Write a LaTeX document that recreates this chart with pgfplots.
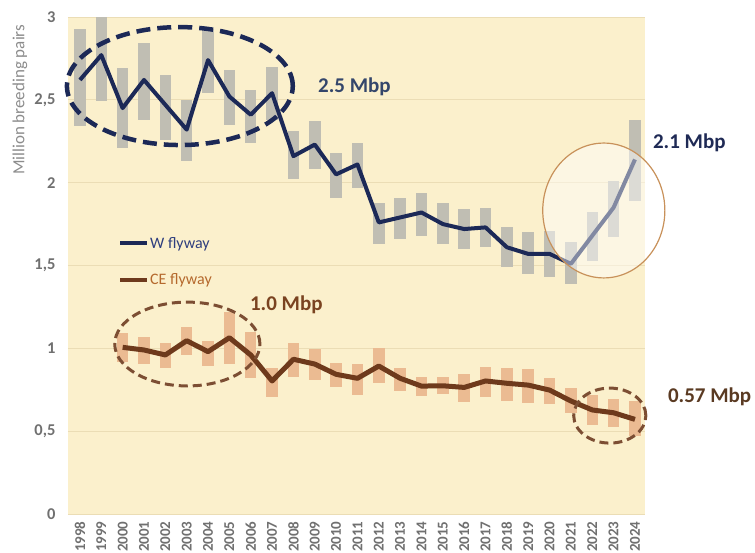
\documentclass[border=0pt]{standalone}
\usepackage{fontspec}
\setmainfont{Carlito}
\usepackage{pgfplots}
\usepackage{pgfplotstable}
\pgfplotsset{compat=1.18}

\definecolor{bgc}{HTML}{FBF0CC}
\definecolor{gridc}{HTML}{EBDDB5}
\definecolor{wline}{HTML}{1C2957}
\definecolor{wbar}{HTML}{C0BEB3}
\definecolor{wtext}{HTML}{2E3E7E}
\definecolor{celine}{HTML}{6E3A1C}
\definecolor{cebar}{HTML}{EBBB92}
\definecolor{cetext}{HTML}{B5692D}
\definecolor{ticktext}{HTML}{707070}
\definecolor{labeltext}{HTML}{8C8C8C}
\definecolor{circ}{HTML}{C8915A}
\definecolor{annW}{HTML}{34466B}
\definecolor{annW2}{HTML}{1F2A55}
\definecolor{annCE}{HTML}{7A4320}
\definecolor{annCE2}{HTML}{5A3A22}

% W flyway: estimate and range (million breeding pairs)
\pgfplotstableread{
year mid  lo   hi
1998 2.62 2.34 2.93
1999 2.77 2.49 3.00
2000 2.45 2.21 2.69
2001 2.62 2.38 2.84
2002 2.47 2.26 2.65
2003 2.32 2.13 2.50
2004 2.74 2.54 2.93
2005 2.52 2.35 2.68
2006 2.41 2.24 2.56
2007 2.54 2.38 2.70
2008 2.16 2.02 2.31
2009 2.23 2.08 2.37
2010 2.05 1.91 2.18
2011 2.11 1.97 2.24
2012 1.76 1.63 1.88
2013 1.79 1.66 1.91
2014 1.82 1.68 1.94
2015 1.75 1.63 1.88
2016 1.72 1.60 1.84
2017 1.73 1.61 1.85
2018 1.61 1.49 1.73
2019 1.57 1.45 1.70
2020 1.57 1.43 1.71
2021 1.51 1.39 1.64
2022 1.68 1.53 1.82
2023 1.85 1.67 2.01
2024 2.14 1.89 2.38
}\Wdata

% CE flyway
\pgfplotstableread{
year mid   lo    hi
2000 1.006 0.920 1.090
2001 0.990 0.905 1.070
2002 0.960 0.880 1.034
2003 1.046 0.960 1.127
2004 0.980 0.893 1.044
2005 1.064 0.903 1.220
2006 0.960 0.820 1.100
2007 0.803 0.708 0.879
2008 0.934 0.829 1.030
2009 0.905 0.809 0.994
2010 0.843 0.768 0.909
2011 0.819 0.718 0.905
2012 0.893 0.789 1.004
2013 0.819 0.744 0.883
2014 0.772 0.712 0.825
2015 0.774 0.724 0.825
2016 0.764 0.674 0.845
2017 0.803 0.708 0.885
2018 0.789 0.682 0.879
2019 0.778 0.668 0.875
2020 0.748 0.662 0.819
2021 0.682 0.611 0.759
2022 0.628 0.537 0.718
2023 0.611 0.527 0.692
2024 0.571 0.471 0.684
}\CEdata

\begin{document}
\begin{tikzpicture}
\useasboundingbox (-68pt,-39pt) rectangle (687pt,514pt);
\begin{axis}[
    width=577pt, height=497pt, scale only axis,
    xmin=1997.44, xmax=2024.47, ymin=0, ymax=3,
    clip=false,
    axis background/.style={fill=bgc},
    axis line style={draw=none},
    major tick length=0pt,
    ymajorgrids,
    grid style={gridc, line width=0.7pt},
    ytick={0,0.5,1,1.5,2,2.5,3},
    xtick={1998,1999,...,2024},
    /pgf/number format/assume math mode=true,
    yticklabel style={font=\fontsize{16.5}{18}\selectfont\bfseries, text=ticktext,
        /pgf/number format/use comma, xshift=-9pt},
    xticklabel shift=4pt,
    xticklabel style={rotate=90, anchor=east, font=\fontsize{15}{16}\selectfont\bfseries,
        text=ticktext, /pgf/number format/1000 sep={}},
    legend cell align=left,
    legend image code/.code={\draw[#1, line width=4pt] (0pt,0pt) -- (27pt,0pt);},
    legend style={at={(axis cs:1999.78,1.678)}, anchor=north west, draw=none, fill=none,
        font=\fontsize{16}{19}\selectfont, row sep=22pt, inner sep=0pt,
        nodes={inner sep=1pt}},
]
% ranges as thick vertical bars
\addplot[draw=none, mark=none, forget plot,
    error bars/.cd, y dir=both, y explicit, error mark=none,
    error bar style={draw=wbar, line width=11.5pt}]
    table[x=year, y=mid, y error plus expr=\thisrow{hi}-\thisrow{mid},
          y error minus expr=\thisrow{mid}-\thisrow{lo}] {\Wdata};
\addplot[draw=none, mark=none, forget plot,
    error bars/.cd, y dir=both, y explicit, error mark=none,
    error bar style={draw=cebar, line width=11.5pt}]
    table[x=year, y=mid, y error plus expr=\thisrow{hi}-\thisrow{mid},
          y error minus expr=\thisrow{mid}-\thisrow{lo}] {\CEdata};

\addplot[wline, line width=4pt, mark=none, line join=round] table[x=year, y=mid] {\Wdata};
\addlegendentry{\textcolor{wtext}{W flyway}}
\addplot[celine, line width=5pt, mark=none, line join=round] table[x=year, y=mid] {\CEdata};
\addlegendentry{\textcolor{cetext}{CE flyway}}

% highlights
\draw[wline, line width=4.5pt, dash pattern=on 14pt off 7pt]
    (axis cs:2002.68,2.583) ellipse [x radius=5.29, y radius=0.356];
\draw[celine!90, line width=3pt, dash pattern=on 9pt off 5pt]
    (axis cs:2003.03,1.026) ellipse [x radius=3.40, y radius=0.253];
\draw[celine!90, line width=3pt, dash pattern=on 9pt off 5pt]
    (axis cs:2022.82,0.594) ellipse [x radius=1.69, y radius=0.166];
\draw[circ, line width=1.2pt, fill=white, fill opacity=0.45]
    (axis cs:2022.54,1.832) ellipse [x radius=2.86, y radius=0.407];

\begin{scope}[every node/.style={anchor=base west, inner sep=0pt,
        font=\fontsize{21}{24}\selectfont\bfseries}]
\node[text=annW] at (axis cs:2009.15,2.547) {2.5 Mbp};
\node[text=annW2] at (axis cs:2024.84,2.209) {2.1 Mbp};
\node[text=annCE] at (axis cs:2005.96,1.231) {1.0 Mbp};
\node[text=annCE2] at (axis cs:2025.54,0.670) {0.57 Mbp};
\end{scope}
\node[rotate=90, text=labeltext, font=\fontsize{17}{20}\selectfont]
    at (axis cs:1995.19,2.5) {Million breeding pairs};
\end{axis}
\end{tikzpicture}
\end{document}
